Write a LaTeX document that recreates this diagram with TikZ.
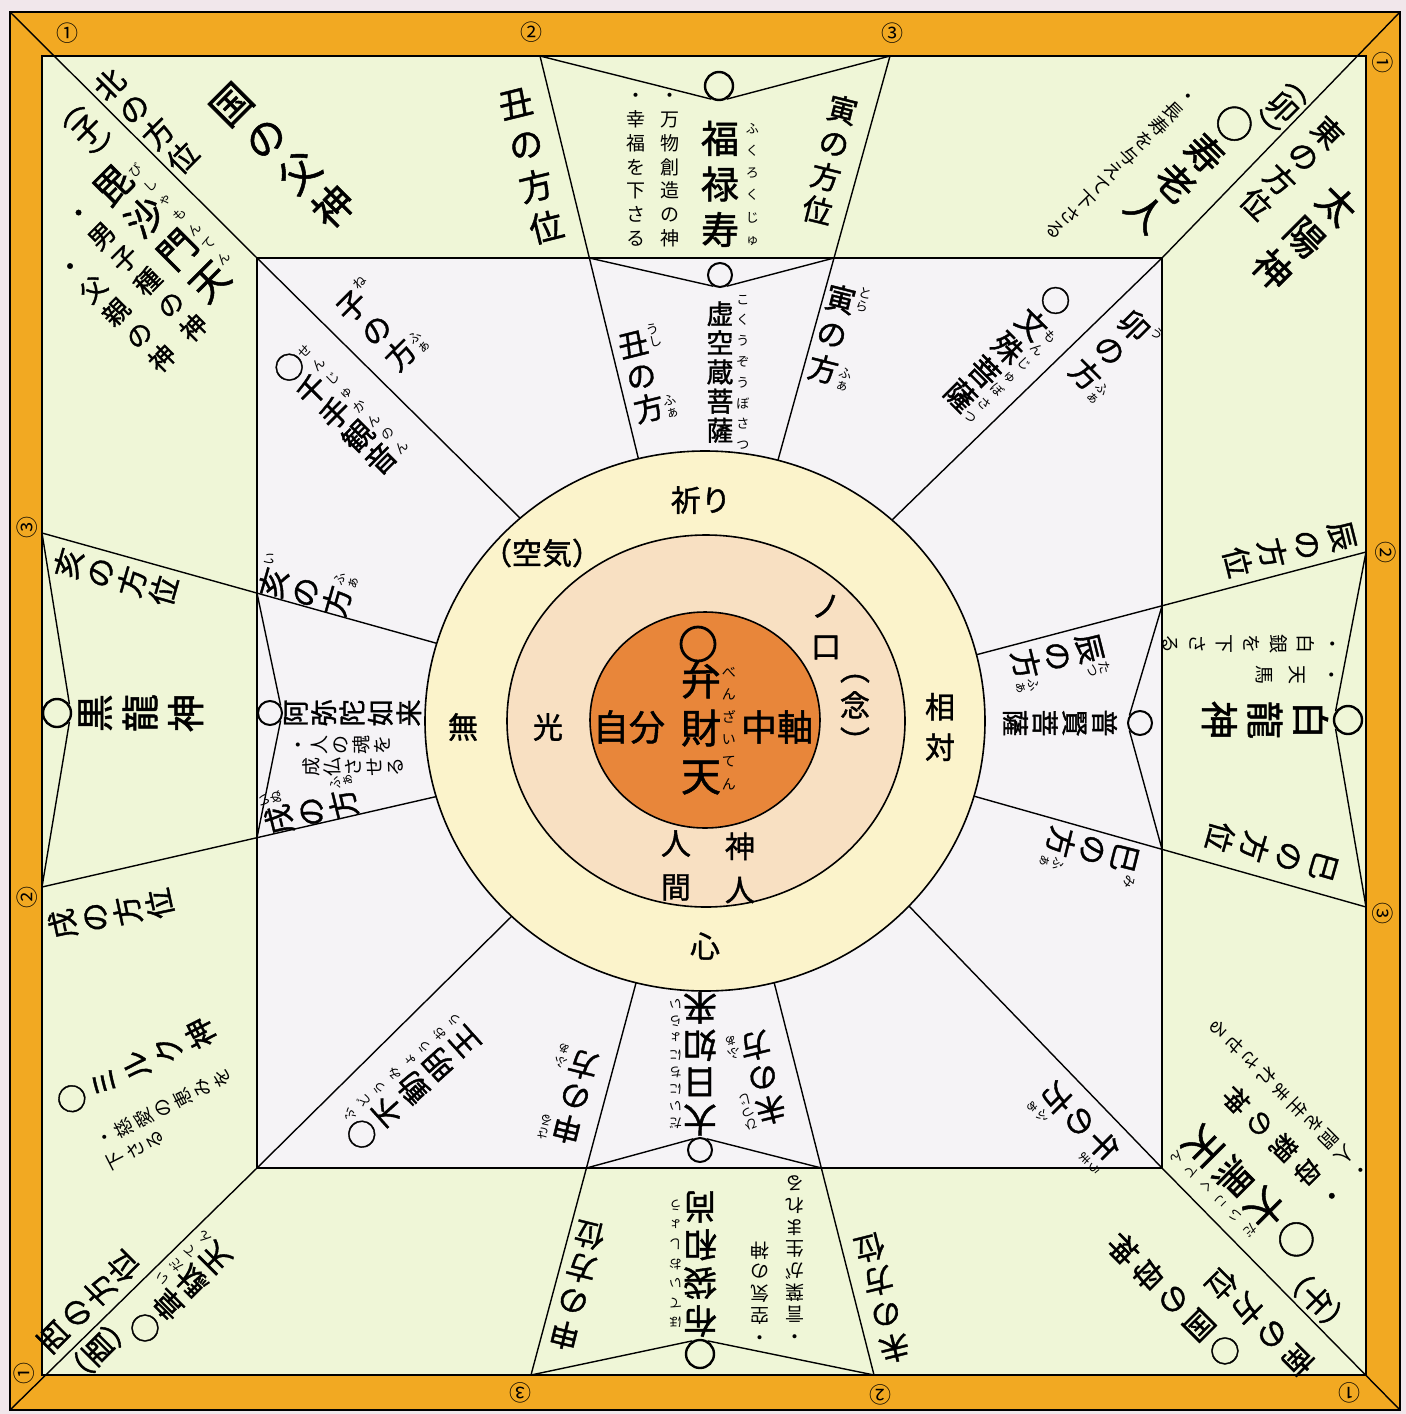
\documentclass[tikz,border=0pt]{standalone}
\usepackage{fontspec}
\setmainfont{Noto Sans CJK JP}
\newfontfamily\jpbold{Noto Sans CJK JP}[FakeBold=1.3]
\usetikzlibrary{positioning,calc}

\definecolor{bgpink}{HTML}{F1E7EB}
\definecolor{frameorange}{HTML}{F2A922}
\definecolor{bandgreen}{HTML}{EFF6D7}
\definecolor{innersq}{HTML}{F5F3F6}
\definecolor{ringcream}{HTML}{FBF3CB}
\definecolor{ringpeach}{HTML}{F8E0C2}
\definecolor{coreorange}{HTML}{E8863A}

% vertical text: one character per line
\newdimen\vtht \newdimen\vtdp
\def\vtstop{\vtstop}
\def\vtloop#1{\ifx#1\vtstop\else\hbox to 1em{\hss\vrule width 0pt height\vtht depth\vtdp\relax#1\hss}\expandafter\vtloop\fi}
\newcommand\vt[2][1]{\vtdp=#1\dimexpr.5em\relax\vtht=\vtdp\advance\vtht .38em\advance\vtdp -.38em\vbox{\offinterlineskip\vtloop#2\vtstop}}

\begin{document}
\begin{tikzpicture}[x=0.5pt,y=-0.5pt,
    spoke/.style={line width=0.7pt, shorten >=-6pt},
    vline/.style={line width=0.7pt},
    ring/.style={circle, draw, line width=1.2pt, inner sep=0pt, minimum size=14pt},
    ringsm/.style={ring, line width=1pt, minimum size=12pt},
    god/.style={inner sep=0pt, font=\jpbold\fontsize{19}{19}\selectfont},
    dirbig/.style={inner sep=0pt, font=\jpbold\fontsize{17}{17}\selectfont},
    dirmid/.style={inner sep=0pt, font=\jpbold\fontsize{15}{15}\selectfont},
    godmid/.style={inner sep=0pt, font=\jpbold\fontsize{13.5}{13.5}\selectfont},
    descbig/.style={inner sep=0pt, font=\jpbold\fontsize{13}{13}\selectfont},
    desc/.style={inner sep=0pt, outer sep=1.5pt, font=\fontsize{9.5}{9.5}\selectfont},
    ruby/.style={inner sep=0pt, font=\fontsize{6.5}{6.5}\selectfont},
    num/.style={inner sep=0pt, font=\fontsize{11}{11}\selectfont},
    ctext/.style={inner sep=0pt, font=\jpbold\fontsize{15}{15}\selectfont},
    core/.style={inner sep=0pt, font=\jpbold\fontsize{18}{18}\selectfont},
  ]
  \useasboundingbox (0,0) rectangle (1406,1414);
  \fill[bgpink] (0,0) rectangle (1406,1414);

  % Frame, band and inner square
  \filldraw[fill=frameorange, line width=0.6pt] (10,12) rectangle (1400,1410);
  \filldraw[fill=bandgreen, line width=0.8pt] (42,56) rectangle (1366,1375);
  \coordinate (sqTL) at (257,258);
  \coordinate (sqTR) at (1162,258);
  \coordinate (sqBR) at (1162,1168);
  \coordinate (sqBL) at (257,1168);
  \filldraw[fill=innersq, line width=0.8pt] (sqTL) rectangle (sqBR);

  % Border ends and ring ends of the spokes
  \coordinate (oTL) at (10,12);   \coordinate (cTL) at (520,518);
  \coordinate (oTR) at (1400,12); \coordinate (cTR) at (893,519);
  \coordinate (oBR) at (1400,1410); \coordinate (cBR) at (907,904);
  \coordinate (oBL) at (10,1410); \coordinate (cBL) at (512,916);
  \coordinate (bT2) at (540,56);   \coordinate (cT2) at (638,457);
  \coordinate (bT3) at (890,56);   \coordinate (cT3) at (778,460);
  \coordinate (bL3) at (42,533);   \coordinate (cL3) at (432,642);
  \coordinate (bL2) at (42,887);   \coordinate (cL2) at (430,798);
  \coordinate (bR2) at (1366,552); \coordinate (cR2) at (983,653);
  \coordinate (bR3) at (1366,907); \coordinate (cR3) at (977,797);
  \coordinate (bB3) at (531,1375); \coordinate (cB3) at (636,983);
  \coordinate (bB2) at (874,1375); \coordinate (cB2) at (774,982);

  % Draw the spokes
  \draw[spoke] (oTL) -- (sqTL) -- (cTL);
  \draw[spoke] (oTR) -- (sqTR) -- (cTR);
  \draw[spoke] (oBR) -- (sqBR) -- (cBR);
  \draw[spoke] (oBL) -- (sqBL) -- (cBL);
  \foreach \s in {T2,T3,L3,L2,R2,R3,B3,B2} {
      \draw[spoke] (b\s) -- (c\s);
    }

  % Where the spokes cross the inner square
  \coordinate (iT2) at (intersection of bT2--cT2 and sqTL--sqTR);
  \coordinate (iT3) at (intersection of bT3--cT3 and sqTL--sqTR);
  \coordinate (iL3) at (intersection of bL3--cL3 and sqTL--sqBL);
  \coordinate (iL2) at (intersection of bL2--cL2 and sqTL--sqBL);
  \coordinate (iR2) at (intersection of bR2--cR2 and sqTR--sqBR);
  \coordinate (iR3) at (intersection of bR3--cR3 and sqTR--sqBR);
  \coordinate (iB3) at (intersection of bB3--cB3 and sqBL--sqBR);
  \coordinate (iB2) at (intersection of bB2--cB2 and sqBL--sqBR);

  % Rings at the tips of the V lines
  \node[ring] (fukuO) at (719,86) {};
  \node[ringsm] (kokuO) at (720,275) {};
  \node[ring] (kokuryuO) at (57,713) {};
  \node[ringsm] (amidaO) at (270,713) {};
  \node[ring] (hakuO) at (1348,720) {};
  \node[ringsm] (fugenO) at (1140,723) {};
  \node[ring] (hoteiO) at (700,1354) {};
  \node[ringsm] (dainichiO) at (700,1150) {};

  % Draw the V lines
  \draw[vline] (bT2) -- (fukuO.-120);  \draw[vline] (fukuO.-60) -- (bT3);
  \draw[vline] (iT2) -- (kokuO.-120);  \draw[vline] (kokuO.-60) -- (iT3);
  \draw[vline] (bL3) -- (kokuryuO.35); \draw[vline] (kokuryuO.-35) -- (bL2);
  \draw[vline] (iL3) -- (amidaO.35);   \draw[vline] (amidaO.-35) -- (iL2);
  \draw[vline] (bR2) -- (hakuO.145);   \draw[vline] (hakuO.215) -- (bR3);
  \draw[vline] (iR2) -- (fugenO.145);  \draw[vline] (fugenO.215) -- (iR3);
  \draw[vline] (bB3) -- (hoteiO.120);  \draw[vline] (hoteiO.60) -- (bB2);
  \draw[vline] (iB3) -- (dainichiO.120); \draw[vline] (dainichiO.60) -- (iB2);

  % Draw the three discs
  \filldraw[fill=ringcream, line width=0.8pt] (705,721) ellipse [x radius=280, y radius=270];
  \filldraw[fill=ringpeach, line width=0.8pt] (706,721) ellipse [x radius=199, y radius=186];
  \filldraw[fill=coreorange, line width=0.8pt] (705,720) ellipse [x radius=115, y radius=108];

  % Circled numbers on the frame
  \node[num] (nTL) at (67,33) {①};
  \node[num] (nT2) at (531,32) {②};
  \node[num] (nT3) at (892,33) {③};
  \node[num, rotate=-90] (nTR) at (1383,62) {①};
  \node[num, rotate=-90] (nR2) at (1386,552) {②};
  \node[num, rotate=-90] (nR3) at (1383,913) {③};
  \node[num, rotate=180] (nBR) at (1349,1393) {①};
  \node[num, rotate=180] (nB2) at (880,1395) {②};
  \node[num, rotate=180] (nB3) at (520,1393) {③};
  \node[num, rotate=90] (nBL) at (24,1373) {①};
  \node[num, rotate=90] (nL2) at (27,897) {②};
  \node[num, rotate=90] (nL3) at (27,527) {③};

  % North side
  \node[god] (fuku) at (720,184) {\vt[1.2]{福禄寿}};
  \node[ruby, anchor=west, xshift=3pt] (fukuR) at (fuku.east) {\vt[1.7]{ふくろくじゅ}};
  \node[desc] (fukuD1) at (670,167) {\vt[1.25]{・万物創造の神}};
  \node[desc] (fukuD2) at (636,167) {\vt[1.25]{・幸福を下さる}};
  \node[dirbig, rotate=14] (ushiA) at (531,165) {\vt[1.25]{丑の方位}};
  \node[dirmid, rotate=-14] (toraA) at (830,160) {\vt[1.15]{寅の方位}};
  \node[godmid] (koku) at (720,372) {\vt[1.08]{虚空蔵菩薩}};
  \node[ruby, anchor=west, xshift=1pt] (kokuR) at (koku.east) {\vt[1.6]{こくうぞうぼさつ}};
  \node[dirmid, rotate=14] (ushiB) at (641,376) {\vt[1.1]{丑の方}};
  \node[ruby, rotate=14, anchor=north west] at (ushiB.north east) {\vt{うし}};
  \node[ruby, rotate=14, anchor=south west] at (ushiB.south east) {\vt{ふぁ}};
  \node[dirmid, rotate=-14] (toraB) at (832,334) {\vt[1.2]{寅の方}};
  \node[ruby, rotate=-14, anchor=north west] at (toraB.north east) {\vt{とら}};
  \node[ruby, rotate=-14, anchor=south west] at (toraB.south east) {\vt{ふぁ}};

  % North-east corner
  \node[dirmid, rotate=-45] (higashi) at (1292,168) {\vt[1.12]{東の方位}};
  \node[dirmid, rotate=-45] (uA) at (1283,107) {\vt{︵卯︶}};
  \node[god, rotate=-45] (taiyo) at (1305,237) {\vt[1.2]{太陽神}};
  \node[god, rotate=-45] (juro) at (1190,168) {\vt[1.1]{○寿老人}};
  \node[desc, rotate=-45] (juroD) at (1122,163) {\vt[1.1]{・長寿を与えて下さる}};
  \node[dirmid, rotate=-45] (uB) at (1110,350) {\vt[1.15]{卯の方}};
  \node[ruby, rotate=-45, anchor=north west] at (uB.north east) {\vt{う}};
  \node[ruby, rotate=-45, anchor=south west] at (uB.south east) {\vt{ふぁ}};
  \node[dirmid, rotate=-45] (monju) at (1008,348) {\vt[1.12]{○文殊菩薩}};
  \node[ruby, rotate=-45, anchor=south west] at (monju.south east) {\vt[1.45]{もんじゅぼさつ}};

  % North-west corner
  \node[dirmid, rotate=45] (kita) at (146,121) {\vt[1.15]{北の方位}};
  \node[dirmid, rotate=45] (neA) at (87,130) {\vt{︵子︶}};
  \node[god, rotate=45] (bisha) at (161,233) {\vt[1.2]{毘沙門天}};
  \node[ruby, rotate=45, anchor=west] at (bisha.east) {\vt[1.6]{びしゃもんてん}};
  \node[descbig, rotate=45] (bishaD1) at (136,270) {\vt[1.25]{・男子種の神}};
  \node[descbig, rotate=45] (bishaD2) at (116,312) {\vt[1.25]{・父親の神}};
  \node[god, rotate=45, font=\jpbold\fontsize{20}{20}\selectfont] (kuniF) at (282,155) {\vt[1.2]{国の父神}};
  \node[dirmid, rotate=45] (neB) at (376,330) {\vt[1.15]{子の方}};
  \node[ruby, rotate=45, anchor=north west] at (neB.north east) {\vt{ね}};
  \node[ruby, rotate=45, anchor=south west] at (neB.south east) {\vt{ふぁ}};
  \node[dirmid, rotate=45] (senju) at (335,413) {\vt[1.08]{○千手観音}};
  \node[ruby, rotate=45, anchor=south west] at (senju.south east) {\vt[1.5]{せんじゅかんのん}};

  % West side
  \node[dirmid, rotate=74] (iA) at (116,577) {\vt[1.1]{亥の方位}};
  \node[god, rotate=90] (kokuryu) at (140,713) {\vt[1.2]{黒龍神}};
  \node[dirmid, rotate=102] (inuA) at (111,914) {\vt[1.1]{戌の方位}};
  \node[dirmid, rotate=74] (iB) at (305,592) {\vt[1.1]{亥の方}};
  \node[ruby, rotate=74, anchor=north west] at (iB.north east) {\vt{い}};
  \node[ruby, rotate=74, anchor=south west] at (iB.south east) {\vt{ふぁ}};
  \node[godmid, rotate=90] (amida) at (352,713) {\vt[1.05]{阿弥陀如来}};
  \node[desc, rotate=90] (amidaD1) at (340,745) {\vt[1.1]{・人の魂を}};
  \node[desc, rotate=90] (amidaD2) at (353,767) {\vt[1.1]{成仏させる}};
  \node[dirmid, rotate=104] (inuB) at (311,812) {\vt[1.1]{戌の方}};
  \node[ruby, rotate=104, anchor=north west] at (inuB.north east) {\vt{いぬ}};
  \node[ruby, rotate=104, anchor=south west] at (inuB.south east) {\vt{ふぁ}};

  % East side
  \node[dirmid, rotate=-76] (tatsuA) at (1290,549) {\vt[1.2]{辰の方位}};
  \node[god, rotate=-90] (haku) at (1265,720) {\vt[1.2]{白龍神}};
  \node[desc, rotate=-90] (hakuD1) at (1298,675) {\vt[1.75]{・天馬}};
  \node[desc, rotate=-90] (hakuD2) at (1252,644) {\vt[1.42]{・白銀を下さる}};
  \node[dirmid, rotate=-76] (tatsuB) at (1058,656) {\vt[1.1]{辰の方}};
  \node[ruby, rotate=-76, anchor=north west] at (tatsuB.north east) {\vt{たつ}};
  \node[ruby, rotate=-76, anchor=south west] at (tatsuB.south east) {\vt{ふぁ}};
  \node[godmid, rotate=-90] (fugen) at (1060,723) {\vt[1.1]{普賢菩薩}};
  \node[dirmid, rotate=-104] (miB) at (1093,850) {\vt[1.1]{巳の方}};
  \node[ruby, rotate=-104, anchor=north west] at (miB.north east) {\vt{み}};
  \node[ruby, rotate=-104, anchor=south west] at (miB.south east) {\vt{ふぁ}};
  \node[dirmid, rotate=-106] (miA) at (1272,852) {\vt[1.2]{巳の方位}};

  % South side
  \node[dirbig, rotate=180] (dainichi) at (700,1064) {\vt[1.1]{大日如来}};
  \node[ruby, rotate=180, anchor=west] at (dainichi.east) {\vt[1.3]{だいにちにょらい}};
  \node[dirmid, rotate=194] (hitsujiB) at (763,1078) {\vt[1.1]{未の方}};
  \node[ruby, rotate=194, anchor=north west] at (hitsujiB.north east) {\vt{ひつじ}};
  \node[ruby, rotate=194, anchor=south west] at (hitsujiB.south east) {\vt{ふぁ}};
  \node[dirmid, rotate=166] (saruB) at (575,1097) {\vt[1.1]{申の方}};
  \node[ruby, rotate=166, anchor=north west] at (saruB.north east) {\vt{さる}};
  \node[ruby, rotate=166, anchor=south west] at (saruB.south east) {\vt{ふぁ}};
  \node[dirbig, rotate=180] (hotei) at (700,1264) {\vt[1.12]{布袋和尚}};
  \node[ruby, rotate=180, anchor=west] at (hotei.east) {\vt[1.5]{ほていおしょう}};
  \node[desc, rotate=180] (hoteiD1) at (760,1294) {\vt[1.15]{・空気の神}};
  \node[desc, rotate=180] (hoteiD2) at (795,1260) {\vt[1.15]{・言葉が生まれる}};
  \node[dirmid, rotate=166] (saruA) at (577,1285) {\vt[1.15]{申の方位}};
  \node[dirmid, rotate=194] (hitsujiA) at (882,1298) {\vt[1.15]{未の方位}};

  % South-west corner
  \node[dirmid, rotate=135] (nishi) at (88,1302) {\vt[1.1]{西の方位}};
  \node[dirmid, rotate=135] (toriA) at (98,1350) {\vt{︵酉︶}};
  \node[dirmid, rotate=135] (ida) at (180,1293) {\vt[1.1]{○韋駄天}};
  \node[ruby, rotate=135, anchor=south west] at (ida.south east) {\vt[1.5]{いだてん}};
  \node[dirmid, rotate=117] (miroku) at (136,1066) {\vt[1.2]{○ミルク神}};
  \node[desc, rotate=117] (mirokuD1) at (163,1108) {\vt[1.15]{・慈愛の恵みを}};
  \node[desc, rotate=117, anchor=north east] (mirokuD2) at (mirokuD1.north west) {\vt[1.15]{下さる}};
  \node[dirmid, rotate=132] (fudo) at (413,1088) {\vt[1.15]{○不動明王}};
  \node[ruby, rotate=132, anchor=south west] at (fudo.south east) {\vt[1.55]{ふどうみょうおう}};

  % South-east corner
  \node[dirmid, rotate=-135] (minami) at (1260,1322) {\vt[1.2]{南の方位}};
  \node[dirmid, rotate=-135] (umaA) at (1317,1300) {\vt{︵午︶}};
  \node[dirmid, rotate=-135] (kuniM) at (1174,1300) {\vt[1.2]{○国の母神}};
  \node[god, rotate=-135] (daikoku) at (1250,1193) {\vt[1.15]{○大黒天}};
  \node[ruby, rotate=-135, anchor=south west] at (daikoku.south east) {\vt[1.6]{だいこくてん}};
  \node[descbig, rotate=-135] (daikokuD1) at (1284,1148) {\vt[1.3]{・母親の神}};
  \node[desc, rotate=-135] (daikokuD2) at (1290,1100) {\vt[1.17]{・人間を生まれさせる}};
  \node[dirmid, rotate=-135] (umaB) at (1080,1122) {\vt[1.1]{午の方}};
  \node[ruby, rotate=-135, anchor=north west] at (umaB.north east) {\vt{うま}};
  \node[ruby, rotate=-135, anchor=south west] at (umaB.south east) {\vt{ふぁ}};

  % Centre discs
  \node[ctext] (inori) at (701,500) {祈り};
  \node[ctext] (kuki) at (542,553) {（空気）};
  \node[ctext] (mu) at (463,727) {無};
  \node[ctext] (hikari) at (548,727) {光};
  \node[ctext] (kokoro) at (705,946) {心};
  \node[ctext] (sotai) at (940,727) {\vt[1.35]{相対}};
  \node[ctext] (noguchi) at (826,626) {\vt[1.35]{ノ口}};
  \node[ctext] (nen) at (855,705) {\vt[1.2]{︵念︶}};
  \node[ctext] (shinjin) at (740,868) {\vt[1.45]{神人}};
  \node[ctext] (ningen) at (676,865) {\vt[1.45]{人間}};
  \node[ring, minimum size=17pt, line width=1.4pt] (benO) at (698,644) {};
  \node[core, font=\jpbold\fontsize{20}{20}\selectfont] (benzai) at (701,728) {\vt[1.2]{弁財天}};
  \node[ruby, font=\fontsize{7}{7}\selectfont, anchor=west] (benzaiR) at (benzai.east) {\vt[1.6]{べんざいてん}};
  \node[core] (jibun) at (629,727) {自分};
  \node[core] (chujiku) at (777,727) {中軸};
\end{tikzpicture}
\end{document}
